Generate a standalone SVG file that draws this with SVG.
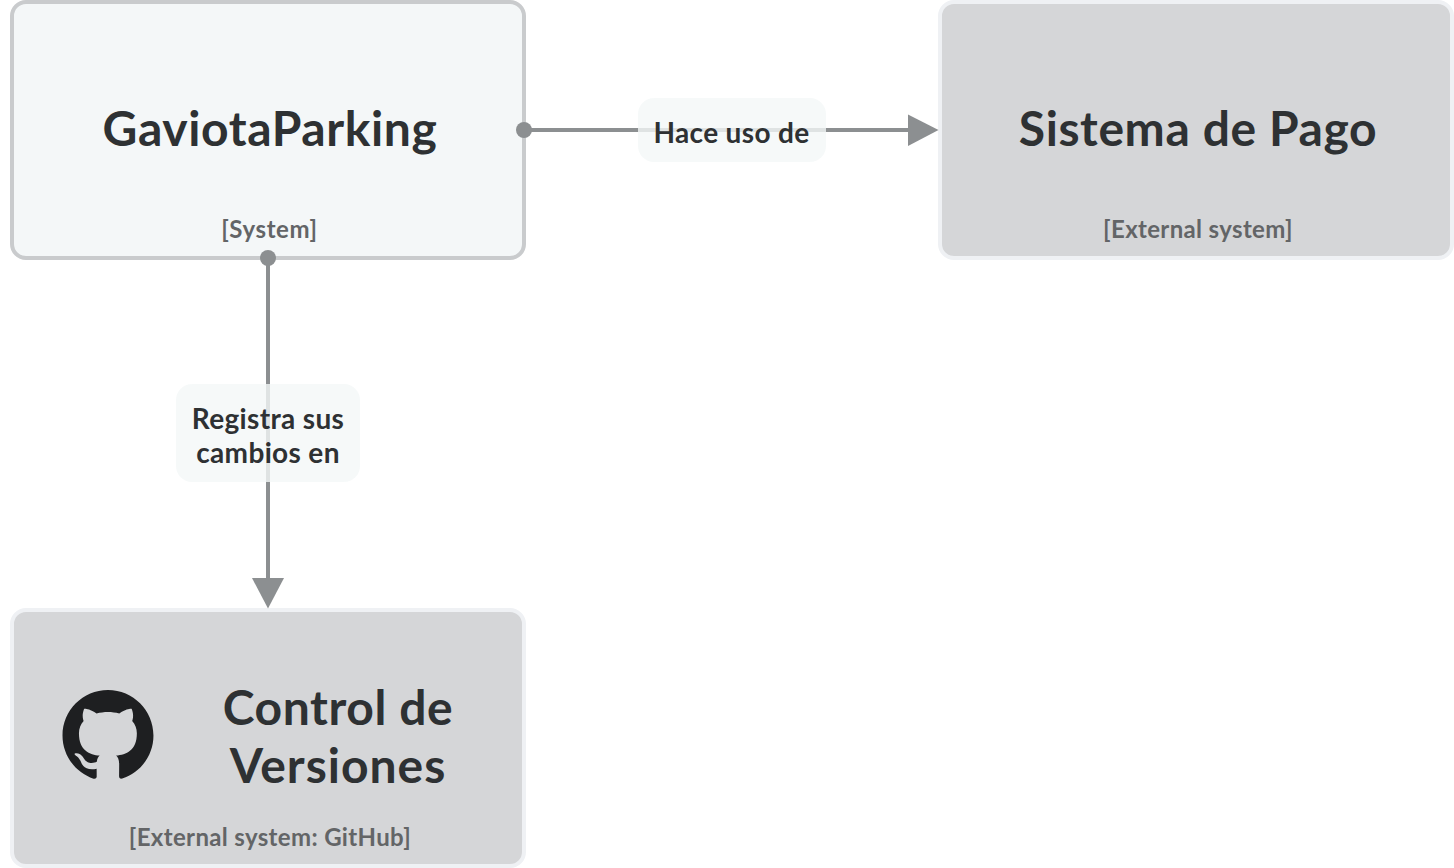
<svg xmlns="http://www.w3.org/2000/svg" width="1454" height="868" viewBox="0 0 1454 868">
<style>
text{font-family:Lato,"Open Sans",sans-serif;text-anchor:middle}
.title{font-size:48px;font-weight:700;fill:#2e3133;letter-spacing:.6px}
.sub{font-size:24px;font-weight:700;fill:#636567;letter-spacing:.35px}
.lbl{font-size:28px;font-weight:700;fill:#2e3133;letter-spacing:.35px}
.lblbg{fill:#f4f7f8;fill-opacity:.8}
.sys{fill:#f4f7f8;stroke:#c9cbcd;stroke-width:4}
.ext{fill:#d5d6d8;stroke:#eff1f4;stroke-width:4}
.line{stroke:#8c8f91;stroke-width:4;fill:none}
.tip{fill:#8c8f91}
</style>
<g id="node-gaviota">
<rect class="sys" x="12" y="2" width="512" height="256" rx="14"/>
<text class="title" x="270" y="146">GaviotaParking</text>
<text class="sub" x="269.500" y="238" style="letter-spacing:.6px">[System]</text>
</g>
<g id="node-pago">
<rect class="ext" x="940" y="2" width="512" height="256" rx="14"/>
<text class="title" x="1198" y="146">Sistema de Pago</text>
<text class="sub" x="1198" y="238">[External system]</text>
</g>
<g id="node-github">
<rect class="ext" x="12" y="610" width="512" height="256" rx="14"/>
<path fill="#1e1f21" transform="translate(62.500 688.900) scale(3.79)" d="M12 .297c-6.630 0-12 5.373-12 12 0 5.303 3.438 9.800 8.205 11.385.6.113.82-.258.82-.577 0-.285-.01-1.040-.015-2.040-3.338.724-4.042-1.610-4.042-1.610C4.422 18.070 3.633 17.700 3.633 17.700c-1.087-.744.084-.729.084-.729 1.205.084 1.838 1.236 1.838 1.236 1.070 1.835 2.809 1.305 3.495.998.108-.776.417-1.305.76-1.605-2.665-.3-5.466-1.332-5.466-5.930 0-1.310.465-2.380 1.235-3.220-.135-.303-.54-1.523.105-3.176 0 0 1.005-.322 3.300 1.230.96-.267 1.980-.399 3-.405 1.020.006 2.040.138 3 .405 2.280-1.552 3.285-1.230 3.285-1.230.645 1.653.24 2.873.12 3.176.765.84 1.230 1.910 1.230 3.220 0 4.610-2.805 5.625-5.475 5.920.42.36.81 1.096.81 2.220 0 1.606-.015 2.896-.015 3.286 0 .315.21.69.825.57C20.565 22.092 24 17.592 24 12.297c0-6.627-5.373-12-12-12"/>
<text class="title" x="338" y="725">Control de</text>
<text class="title" x="338" y="783" style="letter-spacing:1px">Versiones</text>
<text class="sub" x="270" y="846">[External system: GitHub]</text>
</g>
<g id="connectors">
<g id="edge-pago">
<path class="line" d="M524 130H912"/>
<circle class="tip" cx="524" cy="130" r="8"/>
<path class="tip" d="M908 114.500L938.500 130L908 146Z"/>
<rect class="lblbg" x="638" y="98" width="188" height="64" rx="16"/>
<text class="lbl" x="731.500" y="143">Hace uso de</text>
</g>
<g id="edge-github">
<path class="line" d="M268 258V582"/>
<circle class="tip" cx="268" cy="258" r="8"/>
<path class="tip" d="M252 578L268 608.500L284 578Z"/>
<rect class="lblbg" x="176" y="384" width="184" height="98" rx="16"/>
<text class="lbl" x="268" y="429">Registra sus</text>
<text class="lbl" x="268" y="463">cambios en</text>
</g>
</g>
</svg>
